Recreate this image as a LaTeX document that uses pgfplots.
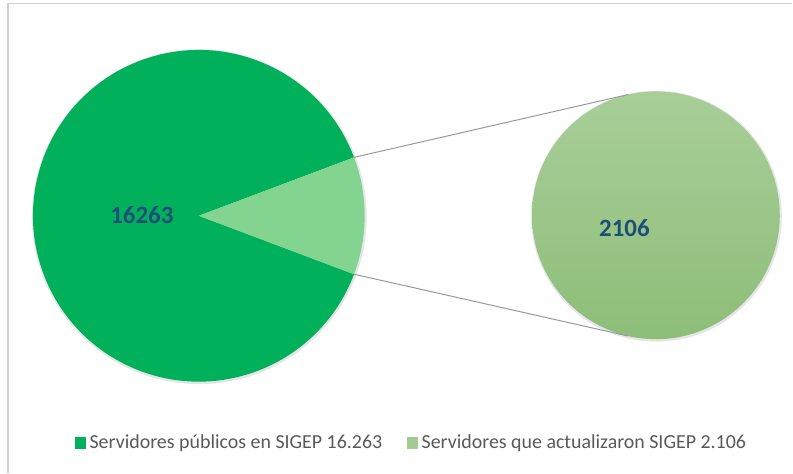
\documentclass[border=0pt]{standalone}
\usepackage{fontspec}
\setmainfont{Carlito}
\usepackage{pgfplots}
\pgfplotsset{compat=1.18}
\definecolor{bigg}{HTML}{00B05A}
\definecolor{wedge}{HTML}{82D490}
\definecolor{smtop}{HTML}{A8CE98}
\definecolor{smbot}{HTML}{8DBE78}
\definecolor{lbl}{HTML}{1F4E79}
\definecolor{legtxt}{HTML}{595959}
\definecolor{frame}{HTML}{D0D0D0}

% values
\pgfmathsetmacro{\vA}{16263}
\pgfmathsetmacro{\vB}{2106}
\pgfmathsetmacro{\half}{180/(\vA/\vB+1)}
\pgfmathsetmacro{\rest}{360-\half}

\begin{document}
\begin{tikzpicture}
\begin{axis}[
  width=793bp, height=473bp, scale only axis,
  xmin=0, xmax=793, ymin=0, ymax=473,
  hide axis, clip=false,
  legend columns=2,
  legend style={at={(axis cs:411,30)}, anchor=center, draw=none, fill=none,
    font=\fontsize{20}{22}\selectfont\color{legtxt},
    nodes={inner sep=0pt},
    /tikz/every odd column/.style={column sep=4bp},
    /tikz/every even column/.style={column sep=25bp}},
]
\addlegendimage{legend image code/.code={\fill[bigg] (0bp,-5.5bp) rectangle (10bp,5.5bp);}}
\addlegendentry{Servidores públicos en SIGEP 16.263}
\addlegendimage{legend image code/.code={\fill[smtop!85!smbot] (0bp,-5.5bp) rectangle (10bp,5.5bp);}}
\addlegendentry{Servidores que actualizaron SIGEP 2.106}

% full picture area
\path (axis cs:0,0) rectangle (axis cs:793,473);

% frame (top and left edges visible)
\draw[frame, line width=1.5bp] (axis cs:8,0) -- (axis cs:8,469.5) -- (axis cs:793,469.5);

% soft shadows
\fill[black!10] (axis cs:199.5,256) circle[radius=167.5bp];
\fill[black!10] (axis cs:657,256.5) circle[radius=125.5bp];

% main pie
\fill[bigg] (axis cs:199,257) -- ++(\half:166bp) arc[start angle=\half, end angle=\rest, radius=166bp] -- cycle;
\fill[wedge] (axis cs:199,257) -- ++(-\half:166bp) arc[start angle=-\half, end angle=\half, radius=166bp] -- cycle;

% secondary pie
\shade[top color=smtop, bottom color=smbot] (axis cs:656.5,257.5) circle[radius=124bp];

% connector lines
\draw[gray!80, line width=1bp] ([shift={(\half:166bp)}]axis cs:199,257) -- ([shift={(103:124bp)}]axis cs:656.5,257.5);
\draw[gray!80, line width=1bp] ([shift={(-\half:166bp)}]axis cs:199,257) -- ([shift={(-103:124bp)}]axis cs:656.5,257.5);

% data labels
\node[font=\fontsize{25}{28}\selectfont\bfseries, text=lbl] at (axis cs:142,258) {16263};
\node[font=\fontsize{25}{28}\selectfont\bfseries, text=lbl] at (axis cs:625,245) {2106};
\end{axis}
\end{tikzpicture}
\end{document}
